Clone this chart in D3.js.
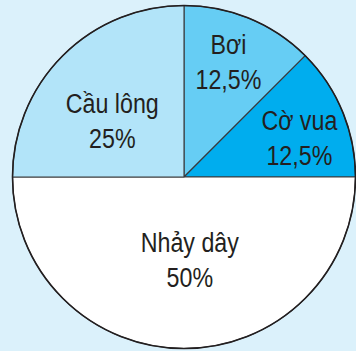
<!DOCTYPE html>
<html>
<head>
<meta charset="utf-8">
<script src="https://cdn.jsdelivr.net/npm/d3@7/dist/d3.min.js"></script>
<style>
  html, body { margin: 0; padding: 0; background: #dbf1fb; }
  svg { display: block; }
  text { font-family: "Liberation Sans", Arial, sans-serif; fill: #231f20; }
</style>
</head>
<body>
<svg id="chart" width="356" height="351"></svg>
<script>
// Sports chosen by pupils, share of the class in percent
const categories = ["Bơi", "Cờ vua", "Nhảy dây", "Cầu lông"];
const shares = [12.5, 12.5, 50, 25];
const valueLabels = ["12,5%", "12,5%", "50%", "25%"];
const sliceColors = ["#66cdf4", "#00adee", "#ffffff", "#b2e4f9"];

// Label anchors: [radius, angle in degrees clockwise from 12 o'clock]
const labelAnchors = [[124, 21], [122, 71], [83, 176], [91, 308]];

const width = 356, height = 351;
const cx = 184, cy = 177, radius = 171.5;

const svg = d3.select("#chart");
const g = svg.append("g").attr("transform", `translate(${cx},${cy})`);

const pie = d3.pie().sort(null).value(d => d.value);
const arc = d3.arc().innerRadius(0).outerRadius(radius);

const data = categories.map((c, i) => ({ name: c, value: shares[i], label: valueLabels[i], color: sliceColors[i], anchor: labelAnchors[i] }));
const arcs = pie(data);

g.selectAll("path.slice")
  .data(arcs)
  .join("path")
  .attr("class", "slice")
  .attr("d", arc)
  .attr("fill", d => d.data.color)
  .attr("stroke", "#3a3a3c")
  .attr("stroke-width", 1.1)
  .attr("stroke-linejoin", "round");

// outer rim
g.append("circle")
  .attr("r", radius)
  .attr("fill", "none")
  .attr("stroke", "#231f20")
  .attr("stroke-width", 1.6);

// condensed lettering: regular face squeezed horizontally
const fontSize = 28, lineGap = 35, capH = 20, squeeze = 0.83;
const labels = g.selectAll("g.label")
  .data(arcs)
  .join("g")
  .attr("class", "label")
  .attr("transform", d => {
    const [r, deg] = d.data.anchor;
    const a = deg * Math.PI / 180;
    return `translate(${r * Math.sin(a)},${-r * Math.cos(a)}) scale(${squeeze},1)`;
  });

labels.append("text")
  .attr("text-anchor", "middle")
  .attr("font-size", fontSize)
  .attr("y", -lineGap / 2 + capH / 2)
  .text(d => d.data.name);

labels.append("text")
  .attr("text-anchor", "middle")
  .attr("font-size", fontSize)
  .attr("y", lineGap / 2 + capH / 2)
  .text(d => d.data.label);
</script>
</body>
</html>
